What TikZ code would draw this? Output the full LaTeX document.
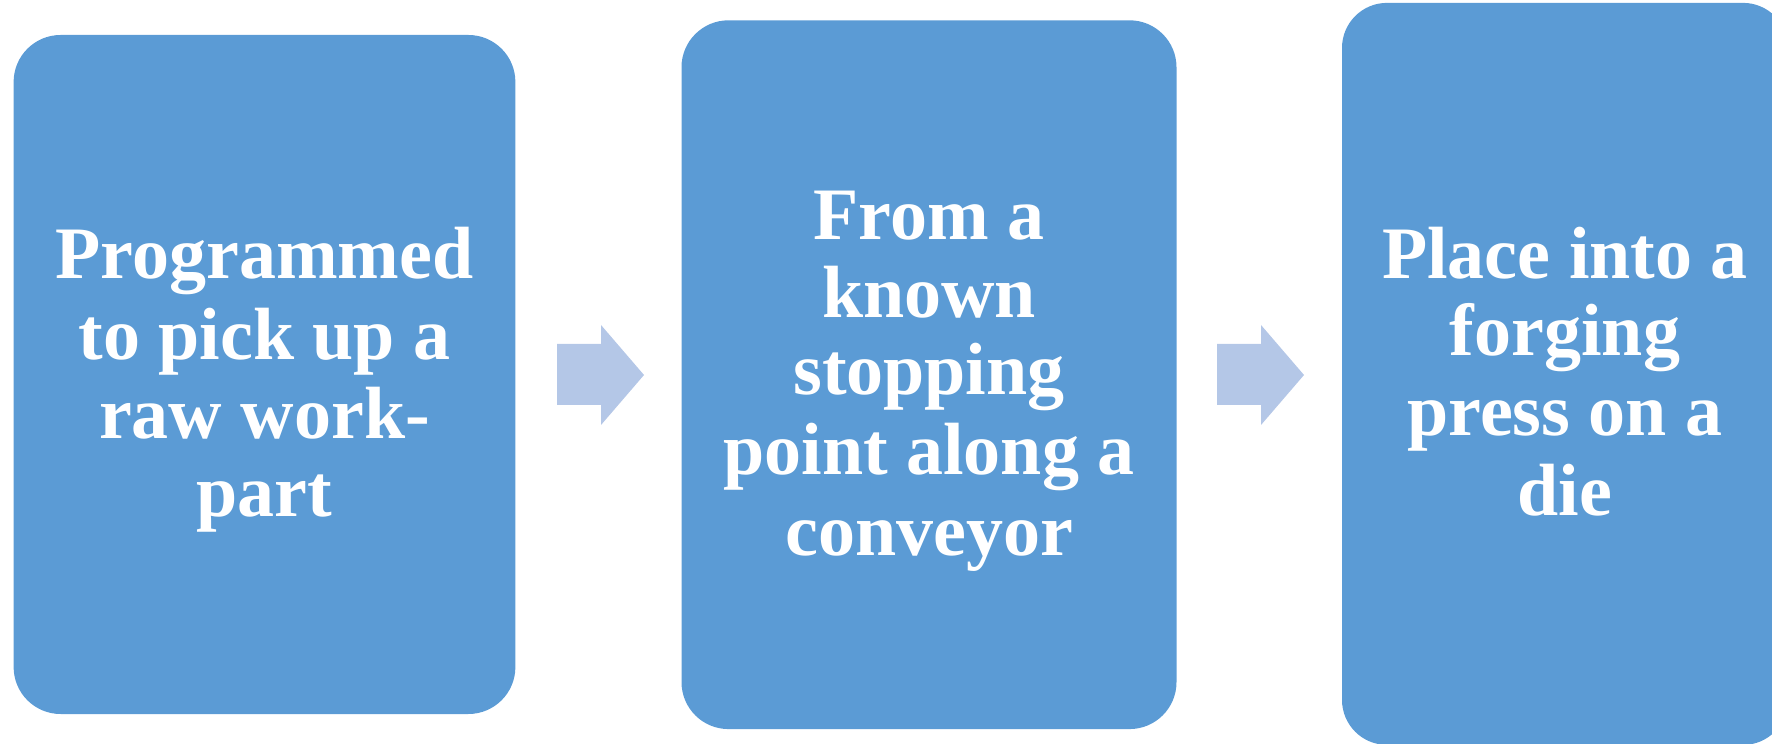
\documentclass[tikz,border=0pt]{standalone}
\usepackage{fontspec}
\setmainfont{Liberation Serif}
\definecolor{boxblue}{HTML}{5B9BD5}
\definecolor{arrowblue}{HTML}{B4C7E7}
\newcommand\lnstrut{\rule[-6.3pt]{0pt}{30.9pt}}
\tikzset{
  stepbox/.style={fill=boxblue, draw=none, inner sep=0pt, align=center,
    text=white, font=\fontsize{29.6}{30.9}\selectfont\bfseries},
  blockarrow/.style={fill=arrowblue, draw=none}
}
\begin{document}
\begin{tikzpicture}[x=0.4pt,y=-0.4pt]
\useasboundingbox (0,0) rectangle (1772,744);
\clip (0,0) rectangle (1772,744);
\node[stepbox, rounded corners=18.8pt, minimum width=200.7pt, minimum height=271.6pt] (b1) at (264.5,374.5)
  {\lnstrut Programmed\\\lnstrut to pick up a\\\lnstrut raw work-\\\lnstrut part};
\node[stepbox, rounded corners=18.8pt, minimum width=198pt, minimum height=283.5pt] (b2) at (929,374.7)
  {\lnstrut From a\\\lnstrut known\\\lnstrut stopping\\\lnstrut point along a\\\lnstrut conveyor};
\node[stepbox, rounded corners=18pt, minimum width=178.4pt, minimum height=296.8pt] (b3) at (1565,373.9)
  {\lnstrut Place into a\\\lnstrut forging\\\lnstrut press on a\\\lnstrut die};
\fill[blockarrow] (557,344) -- (601,344) -- (601,325) -- (644,375) -- (601,425) -- (601,405) -- (557,405) -- cycle;
\fill[blockarrow] (1217,344) -- (1261,344) -- (1261,325) -- (1304,375) -- (1261,425) -- (1261,405) -- (1217,405) -- cycle;
\end{tikzpicture}
\end{document}
